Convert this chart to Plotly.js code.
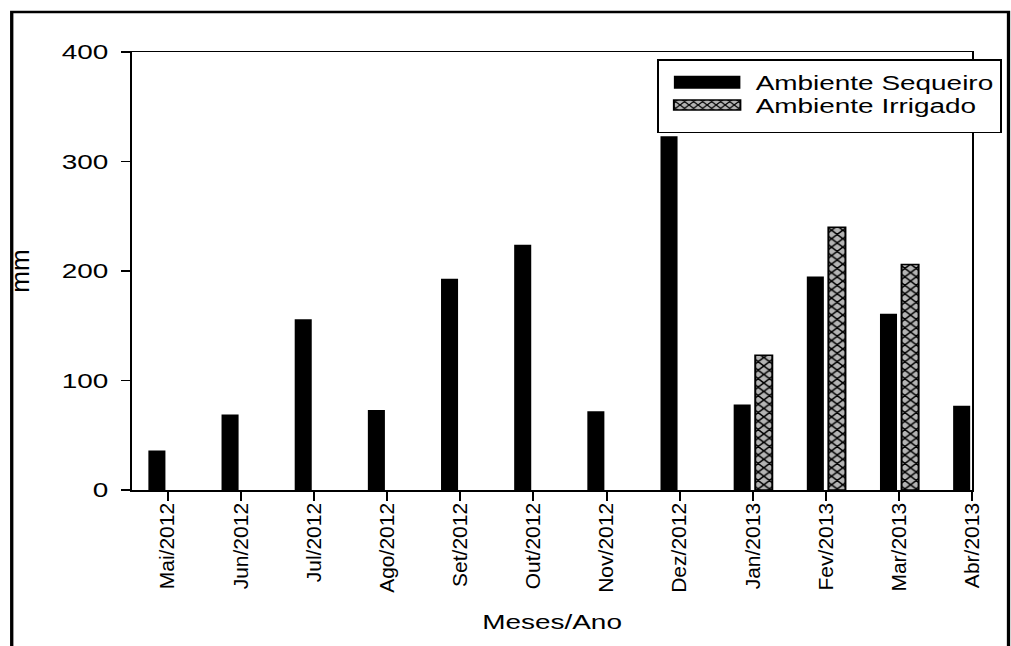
<!DOCTYPE html>
<html><head><meta charset="utf-8">
<script src="https://cdn.plot.ly/plotly-3.0.1.min.js"></script>
<style>
html,body{margin:0;padding:0;background:#fff;overflow:hidden;}
#wrap{width:1011px;height:646px;overflow:hidden;position:relative;}
#chart{width:760px;height:646px;transform:scaleX(1.3303);transform-origin:0 0;}
</style></head><body>
<div id="wrap"><div id="chart"></div></div>
<script>
const months = ['Mai/2012','Jun/2012','Jul/2012','Ago/2012','Set/2012','Out/2012','Nov/2012','Dez/2012','Jan/2013','Fev/2013','Mar/2013','Abr/2013'];
const sequeiro = [36, 69, 156, 73, 193, 224, 72, 323, 78, 195, 161, 77];
const irrigado = [null, null, null, null, null, null, null, null, 123, 240, 206, null];
const yTicks = [0, 100, 200, 300, 400];
const seriesNames = ['Ambiente Sequeiro', 'Ambiente Irrigado'];
const xTitle = 'Meses/Ano';
const yTitle = 'mm';

const FONT = 'Liberation Sans, Arial, sans-serif';
const STRETCH = 1.3303;

const traces = [
  {type:'bar', name:seriesNames[0], x:months, y:sequeiro,
   marker:{color:'#000', line:{color:'#000', width:0}}},
  {type:'bar', name:seriesNames[1], x:months, y:irrigado,
   marker:{color:'#b4b4b4', line:{color:'#000', width:1.5},
     pattern:{shape:'x', fgcolor:'#000', bgcolor:'#b4b4b4', size:6, solidity:0.4}}}
];

const layout = {
  width:760, height:646,
  margin:{l:99.2, r:28.6, t:52, b:156, pad:0, autoexpand:false},
  paper_bgcolor:'#fff', plot_bgcolor:'#fff',
  font:{family:FONT, size:21, color:'#000'},
  barmode:'group', bargap:0.41, bargroupgap:0.21,
  showlegend:true,
  legend:{x:0.6243, y:0.984, xanchor:'left', yanchor:'top',
    bgcolor:'#fff', bordercolor:'#000', borderwidth:1.5,
    font:{family:FONT, size:21, color:'#000'}, itemwidth:63, traceorder:'normal'},
  xaxis:{type:'category', range:[-0.492, 11], ticks:'outside', ticklen:9, tickwidth:1.5, tickcolor:'#000',
    tickangle:-90, ticklabelstandoff:-6, showline:true, linewidth:1.5, linecolor:'#000', mirror:true,
    showgrid:false, zeroline:false, automargin:false,
    tickfont:{family:FONT, size:21, color:'#000'},
    title:{text:xTitle, font:{family:FONT, size:21, color:'#000'}, standoff:22}},
  yaxis:{range:[0, 400], tickvals:yTicks, ticks:'outside', ticklen:6.8, tickwidth:1.5, tickcolor:'#000',
    ticklabelstandoff:5, showline:true, linewidth:1.5, linecolor:'#000', mirror:true,
    showgrid:false, zeroline:false, automargin:false,
    tickfont:{family:FONT, size:21, color:'#000'},
    title:{text:yTitle, font:{family:FONT, size:26, color:'#000'}, standoff:14}},
  shapes:[{type:'rect', xref:'paper', yref:'paper', x0:-0.1427, x1:1.0429, y0:-0.45, y1:1.0913,
    line:{color:'#000', width:2.5}, fillcolor:'rgba(0,0,0,0)'}]
};

function fixLegend(){
  const symbolPaths = ['M-25,-6.5H25V6.5H-25Z', 'M-25,-5H25V5H-25Z'];
  document.querySelectorAll('g.legend g.traces').forEach(function(g, i){
    g.querySelectorAll('g.legendpoints path').forEach(function(p){
      p.setAttribute('d', symbolPaths[i] || symbolPaths[0]);
    });
  });
  const shifts = [1.5, -6];
  document.querySelectorAll('g.legend g.traces').forEach(function(g, i){
    if(g.__shifted) return;
    const t = g.getAttribute('transform') || '';
    const m = /translate\(\s*([-\d.e]+)[\s,]+([-\d.e]+)\s*\)/.exec(t);
    if(m){
      g.setAttribute('transform', 'translate(' + m[1] + ',' + (parseFloat(m[2]) + (shifts[i] || 0)) + ')');
      g.__shifted = true;
    }
  });
}
// rotated texts in the reference are not widened: undo the horizontal stretch for them
function unstretch(el){
  if(el.__unstretched) return;
  const b = el.getBBox();
  const cons = el.transform.baseVal.consolidate();
  const m = cons ? cons.matrix : null;
  const cx = b.x + b.width/2, cy = b.y + b.height/2;
  const px = m ? (m.a*cx + m.c*cy + m.e) : cx;
  const old = el.getAttribute('transform') || '';
  el.setAttribute('transform', 'translate(' + px + ',0) scale(' + (1/STRETCH) + ',1) translate(' + (-px) + ',0) ' + old);
  el.__unstretched = true;
}
Plotly.newPlot('chart', traces, layout, {displayModeBar:false, staticPlot:true}).then(function(gd){
  fixLegend();
  document.querySelectorAll('g.xtick text').forEach(unstretch);
  document.querySelectorAll('text.ytitle').forEach(unstretch);
});
</script>
</body></html>
